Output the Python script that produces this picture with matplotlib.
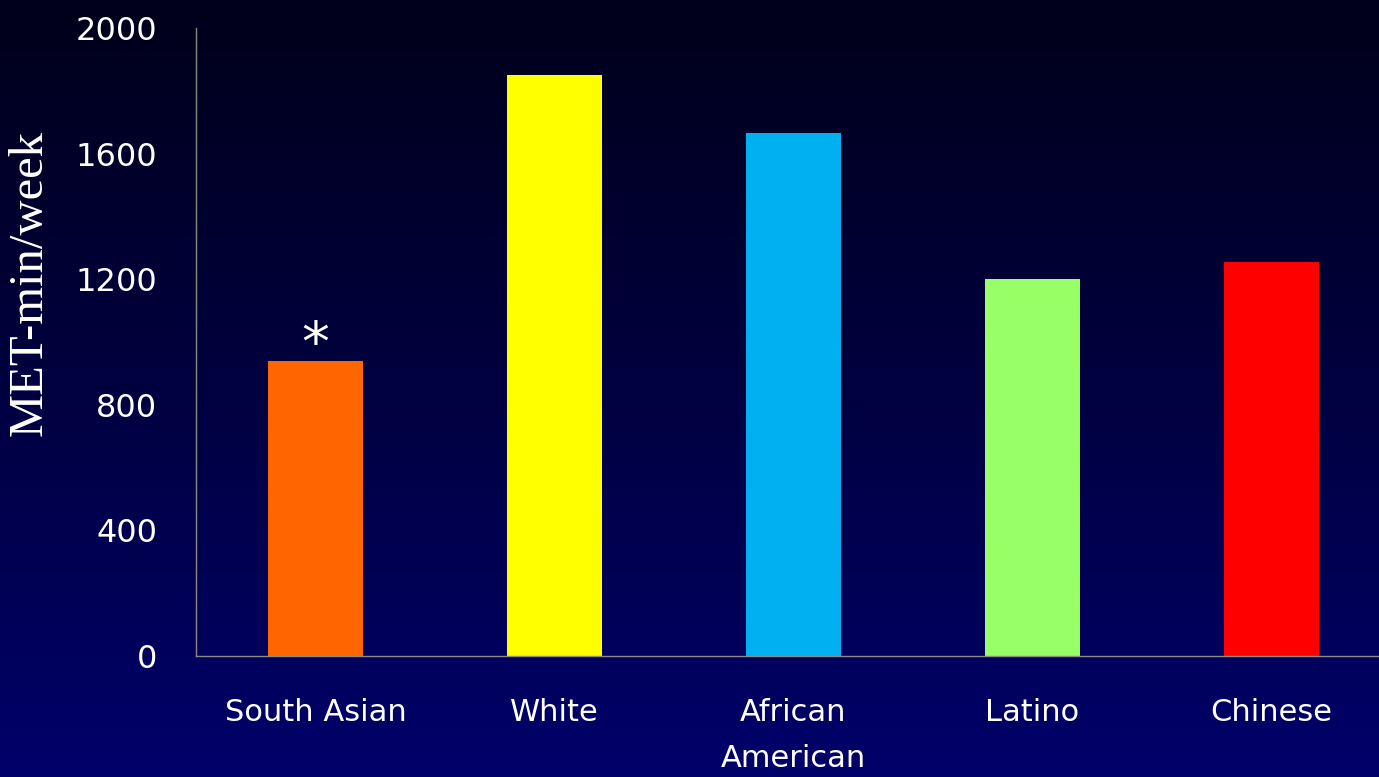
import numpy as np
import matplotlib
matplotlib.use("Agg")
import matplotlib.pyplot as plt
from matplotlib.colors import LinearSegmentedColormap

# Physical activity by ethnic group
groups = ["South Asian", "White", "African\nAmerican", "Latino", "Chinese"]
met_min_week = [940, 1850, 1665, 1200, 1255]
bar_colors = ["#ff6600", "#ffff00", "#00b0f0", "#99ff66", "#ff0000"]
y_ticks = [0, 400, 800, 1200, 1600, 2000]

W, H = 1379, 777
fig = plt.figure(figsize=(W / 100, H / 100), dpi=100)

# Vertical background gradient, near-black at the top to navy at the bottom
bg = fig.add_axes([0, 0, 1, 1], zorder=-10)
cmap = LinearSegmentedColormap.from_list("bg", ["#00006a", "#000040", "#00001a"])
grad = np.linspace(0, 1, 256).reshape(-1, 1)
bg.imshow(grad, aspect="auto", cmap=cmap, origin="lower", extent=[0, 1, 0, 1])
bg.axis("off")

left, bottom, top = 196 / W, 1 - 656 / H, 1 - 28 / H
right = 1391 / W
ax = fig.add_axes([left, bottom, right - left, top - bottom])
ax.patch.set_alpha(0)

x = np.arange(len(groups))
ax.bar(x, met_min_week, width=0.4, color=bar_colors)
ax.set_xlim(-0.5, len(groups) - 0.5)
ax.set_ylim(0, 2000)

label_font = "DejaVu Sans"
ax.set_yticks(y_ticks)
ax.set_xticks(x)
ax.set_xticklabels(groups, fontsize=22, color="white", family=label_font,
                   linespacing=1.75, va="top")
ax.tick_params(axis="y", length=0, pad=28, labelsize=23, labelcolor="white")
ax.tick_params(axis="x", length=0, pad=30)
for lbl in ax.get_yticklabels():
    lbl.set_family(label_font)

for side in ("top", "right"):
    ax.spines[side].set_visible(False)
for side in ("left", "bottom"):
    ax.spines[side].set_color("#8a8a80")
    ax.spines[side].set_linewidth(1.0)

ax.set_ylabel("MET-min/week", fontsize=35, color="white",
              family="Liberation Serif")
ax.yaxis.set_label_coords(-0.121, 0.594)

# Significance marker above the South Asian bar
ax.annotate("*", xy=(x[0], met_min_week[0]), xytext=(0, 0),
            textcoords="offset points", ha="center", va="baseline",
            fontsize=40, color="white", family="DejaVu Sans")

fig.savefig("out.png", dpi=100)
